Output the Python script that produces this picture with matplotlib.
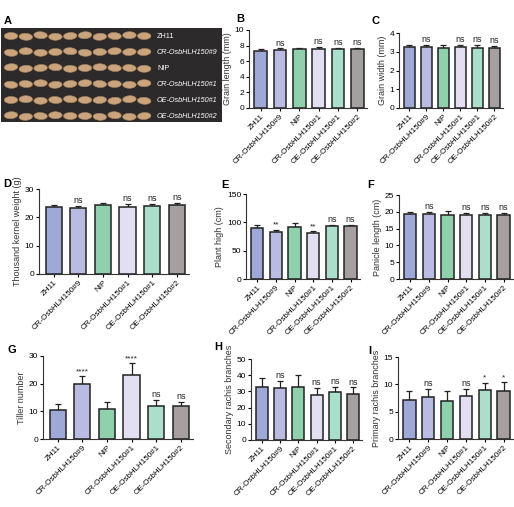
import matplotlib
matplotlib.use("Agg")
import matplotlib.pyplot as plt
from matplotlib.patches import Ellipse
import numpy as np

plt.rcParams['font.family'] = ['Liberation Sans', 'DejaVu Sans']

# genotypes and colours
genotypes = ["ZH11", "CR-OsbHLH150#9", "NIP", "CR-OsbHLH150#1",
             "OE-OsbHLH150#1", "OE-OsbHLH150#2"]
bar_colors = ["#9ea9d8", "#b9bbe2", "#8fd1ad", "#e1dff0", "#a9dfcb", "#a59f9f"]

# trait means, errors and significance marks
grain_length = [7.3, 7.4, 7.5, 7.5, 7.5, 7.5]
grain_length_err = [0.3, 0.25, 0.25, 0.3, 0.25, 0.25]
grain_length_sig = ["", "ns", "", "ns", "ns", "ns"]

grain_width = [3.25, 3.25, 3.2, 3.25, 3.2, 3.2]
grain_width_err = [0.12, 0.12, 0.15, 0.1, 0.15, 0.12]
grain_width_sig = ["", "ns", "", "ns", "ns", "ns"]

kernel_weight = [23.5, 23.2, 24.3, 23.8, 24.0, 24.2]
kernel_weight_err = [0.8, 0.8, 0.8, 1.0, 0.8, 0.8]
kernel_weight_sig = ["", "ns", "", "ns", "ns", "ns"]

plant_high = [90, 83, 91, 82, 93, 93]
plant_high_err = [5, 4, 7, 3, 3, 2]
plant_high_sig = ["", "**", "", "**", "ns", "ns"]

panicle_length = [19.3, 19.2, 18.9, 18.9, 18.9, 18.9]
panicle_length_err = [0.7, 0.8, 1.3, 0.7, 0.7, 0.8]
panicle_length_sig = ["", "ns", "", "ns", "ns", "ns"]

tiller = [10.5, 19.8, 11.0, 23.0, 11.8, 12.0]
tiller_err = [2.2, 3.0, 2.2, 4.5, 2.3, 1.5]
tiller_sig = ["", "****", "", "****", "ns", "ns"]

secondary = [32.5, 32.0, 33.0, 27.8, 29.5, 28.5]
secondary_err = [6.0, 4.5, 7.0, 4.5, 3.5, 4.0]
secondary_sig = ["", "ns", "", "ns", "ns", "ns"]

primary = [7.1, 7.6, 7.0, 7.9, 8.9, 8.8]
primary_err = [1.6, 1.5, 1.7, 1.2, 1.4, 1.6]
primary_sig = ["", "ns", "", "ns", "*", "*"]

# photo panel A: rows of grains
photo_labels = ["ZH11", "CR-OsbHLH150#9", "NIP", "CR-OsbHLH150#1",
                "OE-OsbHLH150#1", "OE-OsbHLH150#2"]
photo_italic = [False, True, False, True, True, True]
grains_per_row = 10

W, H = 514, 507
fig = plt.figure(figsize=(W / 100, H / 100), dpi=100)


def box(l, t, r, b):
    return [l / W, 1 - b / H, (r - l) / W, (b - t) / H]


# --- A: grain photo
axA = fig.add_axes(box(1, 28, 222, 122))
axA.set_facecolor("#2c2a2b")
axA.set_xlim(0, 221)
axA.set_ylim(94, 0)
axA.set_xticks([])
axA.set_yticks([])
for s in axA.spines.values():
    s.set_visible(False)
rng_shift = [0, 1, -1, 1, 0, -1, 1, 0, -1, 0]
for r, lab in enumerate(photo_labels):
    yc = 8 + r * 16
    for g in range(grains_per_row):
        xc = 10 + g * 14.8
        axA.add_patch(Ellipse((xc, yc + rng_shift[(g + r) % 10] * 0.8), 13.5, 7,
                              angle=rng_shift[(g * 3 + r) % 10] * 4,
                              facecolor="#c9a47c", edgecolor="#a9835c", lw=0.4))
    t = axA.text(156, yc, lab, color="white", fontsize=5.2, va="center",
                 style="italic" if photo_italic[r] else "normal")
    t.set_clip_on(True)


def bar_panel(rect, values, errs, sigs, ylabel, yticks):
    ax = fig.add_axes(box(*rect))
    x = np.arange(len(genotypes))
    ax.bar(x, values, width=0.66, color=bar_colors, edgecolor="#222222",
           linewidth=1.1, zorder=2)
    ax.errorbar(x, values, yerr=[np.zeros(len(values)), errs], fmt="none",
                ecolor="#222222", elinewidth=0.9, capsize=2.2, capthick=0.9,
                zorder=1)
    top = yticks[-1]
    for xi, v, e, s in zip(x, values, errs, sigs):
        if s:
            ax.text(xi, v + e + top * 0.01, s, ha="center", va="bottom",
                    fontsize=6.5 if s == "ns" else 6, color="#222222")
    ax.set_xlim(-0.6, 5.5)
    ax.set_ylim(0, top)
    ax.set_yticks(yticks)
    ax.set_xticks(x)
    ax.set_xticklabels(genotypes, rotation=45, ha="right",
                       rotation_mode="anchor", fontsize=5.8)
    ax.tick_params(axis="y", labelsize=6, length=2.5, width=0.8, pad=1)
    ax.tick_params(axis="x", length=2.5, width=0.8, pad=1)
    ax.set_ylabel(ylabel, fontsize=6.5, labelpad=2, color="#333333")
    for side in ["top", "right"]:
        ax.spines[side].set_visible(False)
    for side in ["left", "bottom"]:
        ax.spines[side].set_linewidth(0.8)
        ax.spines[side].set_color("#333333")
    return ax


bar_panel((249, 30, 367, 108), grain_length, grain_length_err, grain_length_sig,
          "Grain length (mm)", [0, 2, 4, 6, 8, 10])
bar_panel((399, 33, 503, 108), grain_width, grain_width_err, grain_width_sig,
          "Grain width (mm)", [0, 1, 2, 3, 4])
bar_panel((39, 189, 189, 274), kernel_weight, kernel_weight_err, kernel_weight_sig,
          "Thousand kernel weight (g)", [0, 10, 20, 30])
bar_panel((246, 194, 360, 279), plant_high, plant_high_err, plant_high_sig,
          "Plant high (cm)", [0, 50, 100, 150])
bar_panel((399, 195, 513, 279), panicle_length, panicle_length_err,
          panicle_length_sig, "Panicle length (cm)", [0, 5, 10, 15, 20, 25])
bar_panel((43, 356, 193, 439), tiller, tiller_err, tiller_sig,
          "Tiller number", [0, 10, 20, 30])
bar_panel((251, 359, 362, 440), secondary, secondary_err, secondary_sig,
          "Secondary rachis branches", [0, 10, 20, 30, 40, 50])
bar_panel((398, 357, 513, 439), primary, primary_err, primary_sig,
          "Primary rachis branches", [0, 5, 10, 15])

# panel letters
letters = ["A", "B", "C", "D", "E", "F", "G", "H", "I"]
letter_xy = [(4, 21), (236, 19), (372, 21), (3, 184), (221, 185), (367, 185),
             (8, 350), (214, 347), (368, 351)]
for L, (lx, ly) in zip(letters, letter_xy):
    fig.text(lx / W, 1 - ly / H, L, fontsize=8, fontweight="bold",
             va="center", ha="left")

fig.savefig("out.png", dpi=100)
